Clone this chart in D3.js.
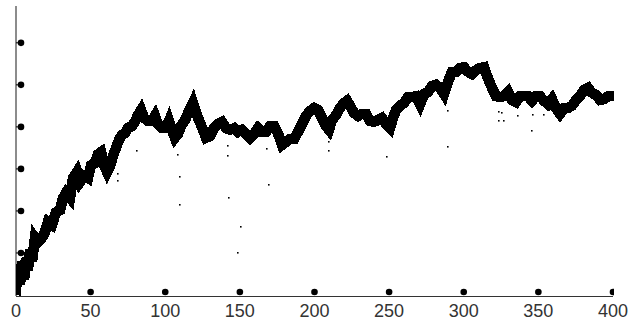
<!DOCTYPE html>
<html>
<head>
<meta charset="utf-8">
<script src="https://cdn.jsdelivr.net/npm/d3@7"></script>
<style>
  body { margin: 0; background: #fff; }
  svg { display: block; }
</style>
</head>
<body>
<div id="chart"></div>
<script>
// main series, x then y
const lineX = [0, 1.3, 2.7, 4.0, 5.4, 6.7, 8.0, 9.4, 10.7, 12.7, 14.7, 17.4, 19.4, 21.4, 24.1, 26.8, 29.5, 31.5, 33.5, 36.2,
  38.2, 40.9, 42.9, 45.6, 48.2, 50.3, 52.9, 54.9, 57.0, 59.0, 61.0, 63.0, 65.0, 67.0, 69.0, 71.0, 73.0, 75.0, 77.7, 79.7,
  81.7, 83.8, 85.8, 88.4, 91.1, 93.1, 95.1, 97.8, 100.5, 102.5, 104.5, 106.5, 108.5, 110.6, 113.2, 115.3, 117.3, 118.6, 120.6, 122.6,
  125.3, 127.3, 130.0, 132.7, 135.3, 138.0, 140.7, 143.4, 146.1, 148.7, 151.4, 154.1, 156.8, 159.5, 162.1, 164.8, 167.5, 170.2, 172.9, 175.5,
  178.2, 180.9, 183.6, 186.3, 188.9, 191.6, 194.3, 197.0, 199.7, 202.3, 205.0, 207.7, 209.7, 211.7, 214.4, 217.1, 219.8, 221.8, 223.8, 226.5,
  229.1, 231.8, 234.5, 237.2, 239.9, 242.5, 245.2, 247.9, 250.6, 252.6, 254.6, 257.3, 260.0, 262.6, 265.3, 268.0, 270.7, 273.4, 276.0, 278.7,
  281.4, 284.1, 286.8, 289.4, 292.1, 294.8, 297.5, 300.2, 302.8, 305.5, 308.2, 310.9, 313.6, 316.2, 318.9, 321.6, 324.3, 327.0, 329.6, 332.3,
  335.0, 337.7, 340.4, 343.0, 345.7, 348.4, 351.1, 353.8, 356.5, 359.1, 361.8, 364.5, 367.2, 369.8, 372.5, 375.2, 377.9, 380.6, 383.3, 385.9,
  388.6, 391.3, 394.0, 396.7, 400];
const lineY = [0.12, 0.64, 0.24, 0.79, 0.36, 0.88, 0.59, 1.07, 0.79, 1.36, 1.26, 1.36, 1.50, 1.74, 1.67, 1.97, 2.02, 2.31, 2.43, 2.31,
  2.78, 2.93, 2.69, 2.83, 2.78, 3.09, 3.14, 3.35, 3.40, 3.09, 2.93, 3.07, 3.31, 3.50, 3.69, 3.81, 3.85, 3.97, 4.02, 4.12,
  4.28, 4.40, 4.21, 4.14, 4.14, 4.26, 4.07, 3.97, 3.97, 4.14, 3.93, 3.74, 3.83, 4.02, 4.16, 4.33, 4.47, 4.57, 4.35, 4.16,
  3.93, 3.74, 3.78, 3.97, 4.07, 4.12, 3.97, 3.93, 3.97, 3.88, 3.93, 3.83, 3.74, 3.83, 3.97, 3.88, 3.88, 4.02, 4.02, 3.85,
  3.57, 3.64, 3.71, 3.71, 3.88, 4.07, 4.26, 4.38, 4.45, 4.40, 4.21, 4.02, 3.93, 4.16, 4.28, 4.45, 4.57, 4.62, 4.50, 4.33,
  4.26, 4.31, 4.31, 4.14, 4.12, 4.16, 4.21, 4.07, 3.97, 4.21, 4.40, 4.50, 4.57, 4.71, 4.71, 4.73, 4.54, 4.78, 4.83, 4.97,
  5.00, 4.93, 4.78, 5.07, 5.31, 5.31, 5.40, 5.42, 5.31, 5.26, 5.35, 5.40, 5.42, 5.16, 4.93, 4.73, 4.71, 4.73, 4.83, 4.64,
  4.59, 4.73, 4.73, 4.73, 4.62, 4.73, 4.73, 4.62, 4.54, 4.66, 4.45, 4.31, 4.45, 4.45, 4.50, 4.64, 4.73, 4.88, 4.93, 4.81,
  4.76, 4.64, 4.66, 4.73, 4.73];

// stray points under the line
const dotX = [61.0, 68.3, 68.3, 81.1, 108.5, 109.9, 109.9, 142.0, 142.0, 142.7, 150.8, 148.7, 168.2, 169.5, 209.7, 209.7,
  248.6, 289.4, 289.4, 323.6, 325.6, 323.6, 327.0, 336.3, 346.4, 353.8, 345.7];
const dotY = [2.66, 2.88, 2.71, 3.43, 3.33, 2.81, 2.14, 3.55, 3.31, 2.31, 1.62, 1.00, 3.47, 2.62, 3.64, 3.43,
  3.28, 4.38, 3.52, 4.35, 4.33, 4.14, 4.14, 4.26, 4.28, 4.28, 3.90];

const xTicks = [0, 50, 100, 150, 200, 250, 300, 350, 400];
const yTicks = [1, 2, 3, 4, 5, 6];

const W = 634, H = 321;
const plotArea = { left: 16, right: 613, top: 5, bottom: 295 };

const svg = d3.select("#chart").append("svg")
  .attr("width", W)
  .attr("height", H);

const x = d3.scaleLinear().domain([0, 400]).range([plotArea.left, plotArea.right]);
const y = d3.scaleLinear().domain([0, 6.9]).range([plotArea.bottom, plotArea.top]);

svg.append("defs").append("clipPath").attr("id", "plot")
  .append("rect")
  .attr("x", plotArea.left).attr("y", 0)
  .attr("width", plotArea.right - plotArea.left + 1).attr("height", plotArea.bottom + 2);

// axes
svg.append("line")
  .attr("x1", plotArea.left).attr("x2", plotArea.left)
  .attr("y1", 6).attr("y2", plotArea.bottom + 1)
  .attr("stroke", "#666").attr("stroke-width", 1.5);

svg.append("line")
  .attr("x1", plotArea.left).attr("x2", plotArea.right)
  .attr("y1", plotArea.bottom + 1.5).attr("y2", plotArea.bottom + 1.5)
  .attr("stroke", "#333").attr("stroke-width", 1.2);

// x tick labels
svg.append("g").selectAll("text")
  .data(xTicks)
  .join("text")
  .attr("x", d => x(d))
  .attr("y", 317)
  .attr("text-anchor", "middle")
  .attr("font-family", "'Liberation Sans Narrow', 'Liberation Sans', sans-serif")
  .attr("font-size", 18)
  .attr("fill", "#333")
  .text(d => d);

const plot = svg.append("g").attr("clip-path", "url(#plot)");

// x tick markers
plot.selectAll("circle.xt")
  .data(xTicks)
  .join("circle")
  .attr("class", "xt")
  .attr("cx", d => x(d))
  .attr("cy", plotArea.bottom - 3)
  .attr("r", 3.3)
  .attr("fill", "#000");

// y tick markers
plot.selectAll("line.yt")
  .data(yTicks)
  .join("line")
  .attr("class", "yt")
  .attr("x1", plotArea.left).attr("x2", plotArea.left + 5)
  .attr("y1", d => y(d)).attr("y2", d => y(d))
  .attr("stroke", "#000");

plot.selectAll("circle.yt")
  .data(yTicks)
  .join("circle")
  .attr("class", "yt")
  .attr("cx", plotArea.left + 5)
  .attr("cy", d => y(d))
  .attr("r", 3.3)
  .attr("fill", "#000");

// stray dots
plot.selectAll("rect.dot")
  .data(dotX.map((d, i) => [d, dotY[i]]))
  .join("rect")
  .attr("class", "dot")
  .attr("x", d => Math.round(x(d[0])) - 1)
  .attr("y", d => Math.round(y(d[1])) - 1)
  .attr("width", 1.6)
  .attr("height", 1.6)
  .attr("fill", "#000");

// main thick line
const pts = lineX.map((d, i) => [d, lineY[i]]);
const line = d3.line()
  .x(d => x(d[0]))
  .y(d => y(d[1]));

plot.append("path")
  .datum(pts)
  .attr("d", line)
  .attr("fill", "none")
  .attr("stroke", "#000")
  .attr("stroke-width", 10.5)
  .attr("stroke-linejoin", "miter")
  .attr("stroke-linecap", "square")
  .attr("shape-rendering", "crispEdges");
</script>
</body>
</html>
